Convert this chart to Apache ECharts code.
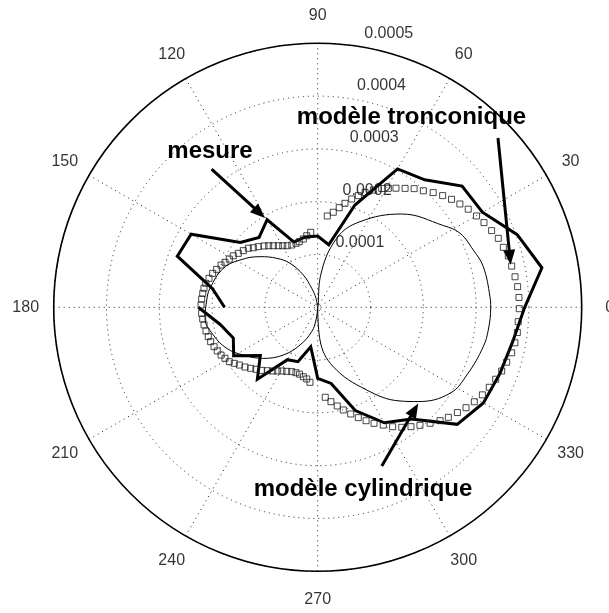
<!DOCTYPE html>
<html>
<head>
<meta charset="utf-8">
<script src="https://cdn.jsdelivr.net/npm/echarts@6/dist/echarts.min.js"></script>
<style>
html,body{margin:0;padding:0;background:#fff;}
#chart{width:609px;height:613px;}
</style>
</head>
<body>
<div id="chart"></div>
<script>
// ---- axis ticks ----
const angleTicks = [0, 30, 60, 90, 120, 150, 180, 210, 240, 270, 300, 330];
const angleTickLabels = ['0', '30', '60', '90', '120', '150', '180', '210', '240', '270', '300', '330'];
const radiusTicks = [0.0001, 0.0002, 0.0003, 0.0004, 0.0005];
const radiusTickLabels = ['0.0001', '0.0002', '0.0003', '0.0004', '0.0005'];

// ---- mesure (thick line) : angle in degrees, value ----
const mesureAngles = [180,170,160,150,140,130,120,110,100,90,80,70,60,50,40,30,20,10,0,
  350,340,330,320,310,300,290,280,270,260,250,240,230,220,210,200,190,180];
const mesureValues = [1.765e-4,2.023e-4,2.830e-4,2.767e-4,1.913e-4,1.727e-4,1.915e-4,1.314e-4,1.354e-4,1.350e-4,
  1.203e-4,2.062e-4,3.026e-4,3.153e-4,3.570e-4,3.602e-4,4.021e-4,4.312e-4,3.920e-4,
  3.750e-4,3.672e-4,3.623e-4,3.449e-4,2.759e-4,2.525e-4,2.081e-4,1.464e-4,1.345e-4,0.759e-4,
  1.095e-4,1.146e-4,1.778e-4,1.419e-4,1.837e-4,1.701e-4,1.875e-4,2.261e-4];

// ---- modèle tronconique (open squares) ----
const tronconiqueAngles = [84,80.7,77.8,75.3,72.6,70,67.6,64.6,61.7,59.3,56.7,53.7,50.9,47.8,44.8,41.8,38.9,36,33.1,29.9,
  27,23.8,20.9,17.9,15.1,12,8.8,5.9,2.8,359.6,355.9,352.8,349.8,346.8,343.8,340.9,338,335,332,328.9,
  325.9,323,319.9,317.2,314.1,310.9,308,305,302.1,299.1,295.9,293.1,290.2,287.2,284,281.2,278,274.8,
  95.3,98.7,101.9,105.7,108.7,112.6,116.3,119.6,122.6,125.8,128.5,131.2,134.4,137.2,139.6,142.7,145.8,148.6,
  151.4,154.1,156.4,159.4,162.1,165.1,167.9,170.5,173.1,175.9,178.9,183,185.8,188.8,192,195,197.8,200.8,
  203.5,206.3,208.8,211.6,213.9,216.4,219.4,222.3,225.1,228.4,231.5,234.8,237.6,240.7,244.2,248,251.6,
  254.8,258.3,261.3,264.1];
const tronconiqueValues = [1.739e-4,1.824e-4,1.930e-4,2.036e-4,2.150e-4,2.250e-4,2.354e-4,2.458e-4,2.557e-4,2.621e-4,
  2.699e-4,2.795e-4,2.896e-4,2.979e-4,3.083e-4,3.174e-4,3.257e-4,3.329e-4,3.403e-4,3.471e-4,
  3.534e-4,3.600e-4,3.661e-4,3.695e-4,3.739e-4,3.756e-4,3.782e-4,3.807e-4,3.816e-4,3.818e-4,
  3.807e-4,3.811e-4,3.795e-4,3.773e-4,3.727e-4,3.687e-4,3.636e-4,3.585e-4,3.532e-4,3.464e-4,
  3.392e-4,3.312e-4,3.235e-4,3.159e-4,3.059e-4,2.958e-4,2.869e-4,2.775e-4,2.670e-4,2.553e-4,
  2.443e-4,2.335e-4,2.227e-4,2.115e-4,2.004e-4,1.905e-4,1.805e-4,1.710e-4,
  1.426e-4,1.371e-4,1.322e-4,1.290e-4,1.280e-4,1.278e-4,1.301e-4,1.341e-4,1.384e-4,1.437e-4,
  1.491e-4,1.544e-4,1.608e-4,1.661e-4,1.725e-4,1.771e-4,1.818e-4,1.873e-4,1.907e-4,1.951e-4,
  1.998e-4,2.044e-4,2.091e-4,2.131e-4,2.168e-4,2.184e-4,2.193e-4,2.203e-4,2.210e-4,2.201e-4,
  2.189e-4,2.178e-4,2.163e-4,2.146e-4,2.129e-4,2.100e-4,2.074e-4,2.042e-4,2.004e-4,1.966e-4,
  1.903e-4,1.843e-4,1.782e-4,1.716e-4,1.657e-4,1.597e-4,1.534e-4,1.477e-4,1.428e-4,1.383e-4,
  1.347e-4,1.314e-4,1.305e-4,1.312e-4,1.343e-4,1.373e-4,1.428e-4];

// ---- modèle cylindrique (thin line) ----
const cylindriqueAngles = [270,274,284.7,300.6,311.3,316.8,327,336,346.6,352.4,0,3.5,13.8,20.2,27.5,33,48,63.7,74.6,85,90,
  100.7,107.5,114,122.2,129.9,138.7,148.7,157.6,170,176.2,185.6,194.9,204.3,212.7,223.2,234.2,244.9,256.2,262.4,270];
const cylindriqueValues = [0,0.621e-4,1.163e-4,1.818e-4,2.362e-4,2.608e-4,2.989e-4,3.106e-4,3.223e-4,3.259e-4,3.276e-4,
  3.269e-4,3.229e-4,3.140e-4,3.038e-4,2.841e-4,2.377e-4,1.809e-4,1.356e-4,0.587e-4,0,
  0.174e-4,0.377e-4,0.670e-4,0.985e-4,1.210e-4,1.453e-4,1.723e-4,1.934e-4,2.072e-4,2.106e-4,2.144e-4,
  2.045e-4,1.890e-4,1.674e-4,1.413e-4,1.114e-4,0.788e-4,0.475e-4,0.242e-4,0];

// ---- annotations (text anchors / arrows in data coordinates: [value, angle]) ----
const annotationTexts = ['mesure', 'modèle tronconique', 'modèle cylindrique'];
const annotationAnchors = [[3.585e-4, 124.67], [4.008e-4, 63.69], [3.554e-4, 283.97]];
const arrowStarts = [[3.301e-4, 127.5], [4.684e-4, 43.2], [3.241e-4, 292.0]];
const arrowTips = [[1.964e-4, 120.5], [3.742e-4, 12.4], [2.634e-4, 316.3]];

const rMax = 0.0005;
const FONT = '"Liberation Sans", Arial, Helvetica, sans-serif';
const DOT = [1, 4];

const zip = (vals, angs) => vals.map((v, i) => [v, angs[i]]);

const chart = echarts.init(document.getElementById('chart'), null, {renderer: 'canvas'});

const option = {
  backgroundColor: '#fff',
  animation: false,
  polar: { center: [317.7, 307.3], radius: 264 },
  angleAxis: {
    type: 'value', min: 0, max: 360, interval: 30, startAngle: 0, clockwise: false,
    axisLine: { show: true, lineStyle: { color: '#000', width: 1.6 } },
    axisTick: { show: false },
    axisLabel: { show: false },
    splitLine: { show: true, lineStyle: { color: '#222', width: 1, type: DOT } }
  },
  radiusAxis: {
    type: 'value', min: 0, max: rMax, interval: 0.0001,
    axisLine: { show: false }, axisTick: { show: false }, axisLabel: { show: false },
    splitLine: { show: true, lineStyle: { color: '#222', width: 1, type: DOT } }
  },
  series: [
    {
      name: 'modèle cylindrique', type: 'line', coordinateSystem: 'polar',
      data: zip(cylindriqueValues, cylindriqueAngles),
      showSymbol: false, smooth: 0.4, z: 3,
      lineStyle: { color: '#000', width: 1 }
    },
    {
      name: 'mesure', type: 'line', coordinateSystem: 'polar',
      data: zip(mesureValues, mesureAngles),
      showSymbol: false, z: 4,
      lineStyle: { color: '#000', width: 3, join: 'miter' }
    },
    {
      name: 'modèle tronconique', type: 'scatter', coordinateSystem: 'polar',
      data: zip(tronconiqueValues, tronconiqueAngles),
      symbol: 'rect', symbolSize: 6, z: 5,
      itemStyle: { color: 'rgba(255,255,255,0)', borderColor: '#1a1a1a', borderWidth: 1 }
    },
    {
      name: 'radius labels', type: 'scatter', coordinateSystem: 'polar', clip: false, silent: true,
      data: radiusTicks.map(v => [v, 82.15]),
      symbolSize: 1, z: 6,
      itemStyle: { color: 'rgba(0,0,0,0)' },
      label: {
        show: true, position: [11, -12], align: 'left', verticalAlign: 'middle',
        formatter: p => radiusTickLabels[p.dataIndex],
        color: '#000', fontSize: 16, fontFamily: FONT
      }
    },
    {
      name: 'angle labels', type: 'scatter', coordinateSystem: 'polar', clip: false, silent: true,
      data: angleTicks.map(a => [rMax * 292 / 264, a]),
      symbolSize: 1, z: 6,
      itemStyle: { color: 'rgba(0,0,0,0)' },
      label: {
        show: true, position: 'inside', align: 'center', verticalAlign: 'middle',
        formatter: p => angleTickLabels[p.dataIndex],
        color: '#000', fontSize: 16, fontFamily: FONT
      }
    }
  ]
};
chart.setOption(option);

// annotations
const toPx = d => chart.convertToPixel({seriesIndex: 0}, d);
const graphics = [];
annotationTexts.forEach((t, i) => {
  const p = toPx(annotationAnchors[i]);
  graphics.push({
    type: 'text', x: p[0], y: p[1], z: 100,
    style: { text: t, fill: '#000', font: 'bold 24px ' + FONT, align: 'center', verticalAlign: 'middle' }
  });
});
arrowStarts.forEach((sd, i) => {
  const s = toPx(sd), t = toPx(arrowTips[i]);
  const dx = t[0] - s[0], dy = t[1] - s[1];
  const len = Math.hypot(dx, dy), ux = dx / len, uy = dy / len;
  const headLen = 15, headHalf = 6;
  const bx = t[0] - ux * headLen, by = t[1] - uy * headLen;
  graphics.push({
    type: 'line', z: 100,
    shape: { x1: s[0], y1: s[1], x2: bx + ux * 2, y2: by + uy * 2 },
    style: { stroke: '#000', lineWidth: 3 }
  });
  graphics.push({
    type: 'polygon', z: 100,
    shape: { points: [[t[0], t[1]], [bx - uy * headHalf, by + ux * headHalf], [bx + uy * headHalf, by - ux * headHalf]] },
    style: { fill: '#000' }
  });
});
chart.setOption({ graphic: graphics });
</script>
</body>
</html>
